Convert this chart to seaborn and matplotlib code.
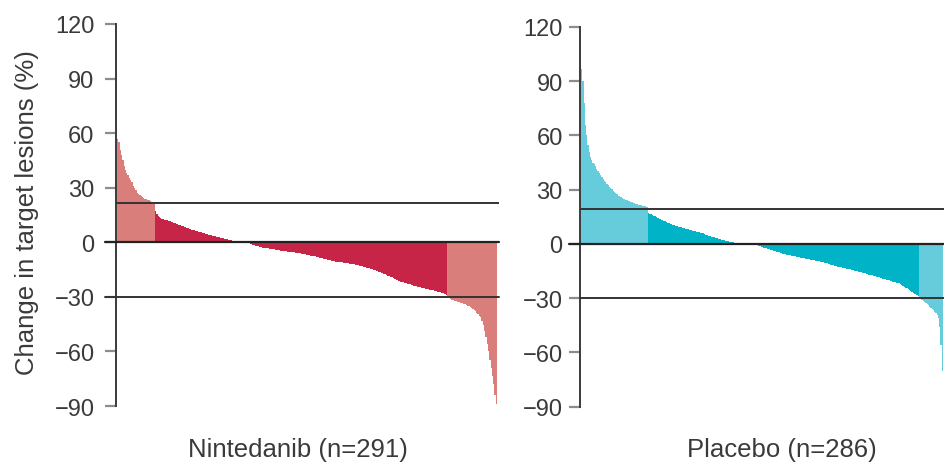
import numpy as np
import pandas as pd
import matplotlib
matplotlib.use("Agg")
import matplotlib.pyplot as plt
import seaborn as sns

# Best percentage change in target lesions per patient, sorted from largest increase to largest decrease
nintedanib_change = [
    57, 55, 51, 48, 45, 42, 40, 38, 37, 35.5,
    34.5, 33, 31, 30, 28.5, 27, 26.5, 26, 25.5, 25,
    24.4, 24, 23.6, 23.3, 23, 22.6, 22.2, 21.7, 21,
    17, 15.5, 14.5, 14, 13.3, 13, 12.8, 12.5, 12.2, 12, 11.8,
    11.5, 11.2, 11, 10.8, 10.5, 10.2, 10, 9.7, 9.4, 9.1,
    8.8, 8.5, 8.3, 8, 7.8, 7.5, 7.3, 7, 6.7, 6.5, 6.2,
    6, 5.8, 5.6, 5.4, 5.2, 5, 4.8, 4.6, 4.4, 4.2,
    4, 3.8, 3.6, 3.4, 3.2, 3, 2.9, 2.7, 2.5, 2.4,
    2.2, 2, 1.8, 1.6, 1.4, 1.2, 1,
    0, 0, 0, 0, 0, 0, 0, 0, 0, 0, 0, 0, 0, 0,
    -1.1, -1.3, -1.5, -1.7, -1.9, -2.1, -2.3, -2.5, -2.7, -2.9, -3, -3.2,
    -3.3, -3.4, -3.5, -3.6, -3.7, -3.8, -3.9, -4, -4.2, -4.3, -4.4, -4.6, -4.7,
    -4.8, -4.9, -5, -5.1, -5.2, -5.3, -5.4, -5.5, -5.6, -5.7, -5.8, -5.9, -6,
    -6.1, -6.3, -6.4, -6.6, -6.7, -6.9, -7, -7.2, -7.3, -7.5, -7.6, -7.8, -7.9,
    -8, -8.2, -8.4, -8.6, -8.8, -9, -9.2, -9.4, -9.6, -9.8, -10, -10.2,
    -10.4, -10.5, -10.6, -10.7, -10.8, -10.9, -11, -11.1, -11.2, -11.3, -11.4, -11.5, -11.6,
    -11.7, -11.9, -12, -12.2, -12.3, -12.5, -12.7, -12.8, -13, -13.2, -13.4, -13.6, -13.8,
    -13.9, -14.1, -14.4, -14.6, -14.9, -15.1, -15.4, -15.7, -15.9, -16.2, -16.5, -16.7, -17,
    -17.2, -17.6, -17.9, -18.3, -18.6, -19, -19.3, -19.7, -20, -20.4, -20.8, -21.1,
    -21.5, -21.7, -21.9, -22.1, -22.3, -22.5, -22.7, -22.9, -23.1, -23.4, -23.6, -23.8, -24.1,
    -24.3, -24.5, -24.6, -24.8, -25, -25.2, -25.3, -25.5, -25.7, -25.8, -26, -26.2, -26.4,
    -26.5, -26.7, -26.9, -27.2, -27.4, -27.6, -27.9, -28.1, -28.4, -28.6, -28.9,
    -30.2, -30.6, -31, -31.5, -32, -32.2, -32.4, -32.6, -32.8, -33,
    -33.2, -33.5, -33.9, -34.2, -34.5, -34.9, -35.3, -35.7, -36.2, -36.7,
    -37.3, -38, -38.8, -39.6, -40.5, -41.3, -43, -45.5, -48.5, -52,
    -56, -60, -64.5, -69, -73.5, -78, -84, -89,
]

placebo_change = [
    97, 90, 78, 66, 60, 55, 51, 48, 46.5, 45,
    44, 43, 41.5, 40.5, 39.4, 38.3, 37.2, 36, 35, 34,
    33.2, 32.4, 31.6, 30.9, 30.2, 29.5, 28.8, 28.1, 27.5, 26.8,
    26.3, 25.9, 25.5, 25.1, 24.7, 24.4, 24.1, 23.8, 23.5, 23.2,
    23, 22.7, 22.5, 22.2, 22, 21.8, 21.6, 21.4, 21.2, 21, 20.8, 20.6, 20.4,
    17.2, 16.8, 16.4, 16, 15.6, 15.2, 14.8, 14.4, 14.1, 13.8,
    13.5, 13.1, 12.8, 12.5, 12.1, 11.8, 11.5, 11.2, 10.9, 10.6,
    10.4, 10.2, 10, 9.8, 9.6, 9.4, 9.2, 9, 8.8, 8.5,
    8.3, 8.1, 7.9, 7.7, 7.5, 7.3, 7.2, 7, 6.8, 6.6, 6.5, 6.3, 6.1,
    5.8, 5.5, 5.2, 4.9, 4.6, 4.4, 4.2, 4, 3.8, 3.6,
    3.4, 3.2, 3, 2.8, 2.6, 2.4, 2.2, 2, 1.8, 1.6,
    1.4, 1.3, 1.1, 1, 0.9, 0.7, 0.6, 0.5,
    0, 0, 0, 0, 0, 0, 0, 0, 0, 0, 0, 0, 0,
    -0.3, -0.5, -0.8, -1, -1.3, -1.5, -1.8, -2, -2.3, -2.5, -2.7, -2.9,
    -3.1, -3.3, -3.5, -3.8, -4, -4.2, -4.4, -4.6, -4.8, -5, -5.3, -5.5, -5.7,
    -5.9, -6, -6.2, -6.3, -6.5, -6.6, -6.8, -6.9, -7.1, -7.2, -7.4, -7.5, -7.7,
    -7.8, -7.9, -8.1, -8.2, -8.3, -8.5, -8.6, -8.7, -8.9, -9, -9.2, -9.3, -9.5,
    -9.6, -9.8, -10, -10.2, -10.4, -10.6, -10.8, -11, -11.2, -11.5, -11.7, -11.9, -12.2,
    -12.4, -12.5, -12.7, -12.8, -13, -13.1, -13.3, -13.4, -13.6, -13.7, -13.9, -14, -14.2,
    -14.3, -14.5, -14.7, -14.9, -15.1, -15.3, -15.5, -15.7, -15.9, -16.1, -16.3, -16.5, -16.7, -16.9,
    -17, -17.2, -17.4, -17.6, -17.9, -18.1, -18.3, -18.5, -18.7, -18.9, -19.2, -19.4, -19.6,
    -19.8, -20, -20.2, -20.4, -20.6, -20.8, -21, -21.2, -21.4, -21.6,
    -21.8, -22.3, -22.8, -23.3, -23.7, -24.1, -24.5, -25, -25.4,
    -25.9, -26.4, -26.9, -27.4, -27.9, -28.4, -29,
    -30, -30.5, -31, -31.5, -32.2, -32.8, -33.4, -34, -34.6, -35.2,
    -35.9, -36.5, -37.4, -38.4, -39.4, -41, -46, -56, -70,
]

arm_labels = ["Nintedanib (n=291)", "Placebo (n=286)"]
y_label = "Change in target lesions (%)"
y_ticks = [-90, -60, -30, 0, 30, 60, 90, 120]

# Reference lines: growth threshold (per panel), zero, response threshold
growth_line = [21.5, 19.2]
response_line = -30
growth_cut = 20

dark_colors = ["#C72548", "#00B3C6"]
light_colors = ["#DA7E7B", "#66CCDB"]

sns.set_theme(style="white")
plt.rcParams["font.family"] = ["Liberation Sans", "DejaVu Sans"]
plt.rcParams["axes.unicode_minus"] = True

fig = plt.figure(figsize=(9.44, 4.64), dpi=100)
W, H = 944, 464

# axes boxes in pixels: left, right, top, bottom
boxes = [(116, 499, 25, 407), (580, 946, 28, 407.7)]
xlims = [(-1.3, 292.0), (-1.3, 287.9)]
label_pos = [(298, 450), (782, 450)]
tick_pads = [7.5, 4.5]

for k, values in enumerate([nintedanib_change, placebo_change]):
    l, r, t, b = boxes[k]
    ax = fig.add_axes([l / W, 1 - b / H, (r - l) / W, (b - t) / H])

    df = pd.DataFrame({"patient": np.arange(len(values)), "change": values})
    df["group"] = np.where((df["change"] >= growth_cut) | (df["change"] <= response_line),
                           "beyond", "within")

    sns.barplot(data=df, x="patient", y="change", hue="group",
                palette={"beyond": light_colors[k], "within": dark_colors[k]},
                native_scale=True, width=1.0, dodge=False, errorbar=None,
                saturation=1, legend=False, linewidth=0, ax=ax)
    for p in ax.patches:
        p.set_antialiased(False)

    ax.set_xlim(*xlims[k])
    ax.set_ylim(-90, 120)
    ax.set_yticks(y_ticks)
    ax.tick_params(axis="y", direction="out", length=8, width=1.6, color="#8c8c8c",
                   labelsize=17, labelcolor="#3a3a3a", pad=tick_pads[k], left=True)
    ax.tick_params(axis="x", bottom=False, labelbottom=False)

    for side in ["top", "right", "bottom"]:
        ax.spines[side].set_visible(False)
    ax.spines["left"].set_color("#3a3a3a")
    ax.spines["left"].set_linewidth(1.4)

    ax.axhline(growth_line[k], xmin=0, xmax=1, color="#333333", lw=1.4, zorder=3)
    ax.axhline(0, xmin=-0.03, xmax=1, color="#222222", lw=1.6, zorder=3, clip_on=False)
    ax.axhline(response_line, xmin=-0.03 if k == 0 else 0, xmax=1,
               color="#333333", lw=1.4, zorder=3, clip_on=False)

    ax.set_xlabel(arm_labels[k], fontsize=18.5, color="#3a3a3a", va="center")
    lx, ly = label_pos[k]
    ax.xaxis.set_label_coords((lx - l) / (r - l), -(ly - b) / (b - t))

    if k == 0:
        ax.set_ylabel(y_label, fontsize=18.5, color="#3a3a3a", va="center")
        ax.yaxis.set_label_coords((27 - l) / (r - l), 1 - (212.5 - t) / (b - t))
    else:
        ax.set_ylabel("")

fig.savefig("out.png", dpi=100)
